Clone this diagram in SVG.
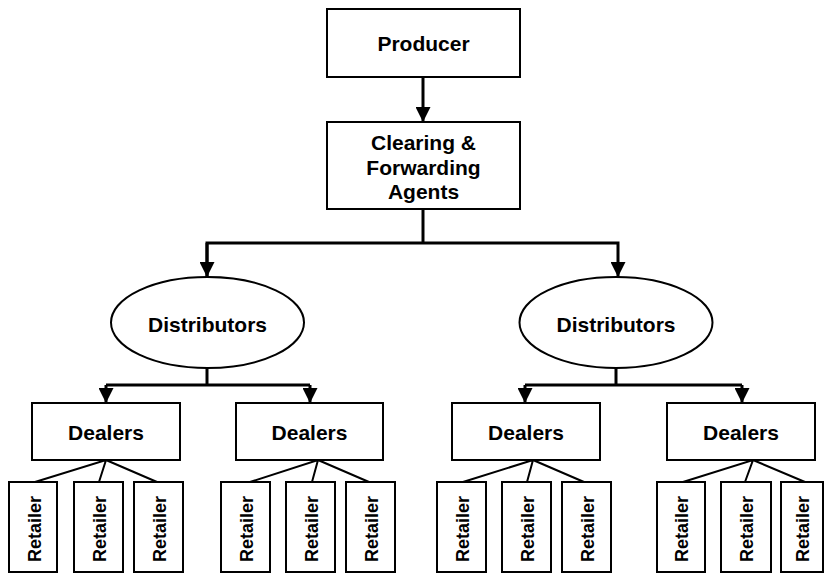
<svg xmlns="http://www.w3.org/2000/svg" width="825" height="573" viewBox="0 0 825 573">
<style>
.box{fill:#fff;stroke:#000;stroke-width:2}
.t{font-family:"Liberation Sans",Arial,sans-serif;font-weight:bold;font-size:21px;text-anchor:middle;fill:#000}
.r{font-family:"Liberation Sans",Arial,sans-serif;font-weight:bold;font-size:18px;text-anchor:middle;fill:#000}
.c{fill:none;stroke:#000;stroke-width:3}
.thin{fill:none;stroke:#000;stroke-width:2}
</style>
<defs>
<marker id="ah" markerWidth="16" markerHeight="15" refX="16" refY="8" orient="auto" markerUnits="userSpaceOnUse" viewBox="0 0 16 16">
<path d="M0,0 L16,8 L0,16 Z" fill="#000"/>
</marker>
</defs>
<rect width="825" height="573" fill="#fff"/>
<g id="connectors">
<line class="c" x1="423" y1="77" x2="423" y2="122" marker-end="url(#ah)"/>
<line class="c" x1="423" y1="209" x2="423" y2="243"/>
<polyline class="c" points="207,277 207,243 618,243 618,277" marker-end="url(#ah)"/>
<line class="c" x1="207" y1="243" x2="207" y2="277" marker-end="url(#ah)"/>
<line class="c" x1="207" y1="368" x2="207" y2="385"/>
<line class="c" x1="106" y1="385" x2="310" y2="385"/>
<line class="c" x1="106" y1="385" x2="106" y2="403" marker-end="url(#ah)"/>
<line class="c" x1="310" y1="385" x2="310" y2="403" marker-end="url(#ah)"/>
<line class="c" x1="616" y1="368" x2="616" y2="385"/>
<line class="c" x1="525" y1="385" x2="742" y2="385"/>
<line class="c" x1="525" y1="385" x2="525" y2="403" marker-end="url(#ah)"/>
<line class="c" x1="742" y1="385" x2="742" y2="403" marker-end="url(#ah)"/>
<path class="thin" d="M35,482 L106,460 L99,482 M106,460 L157,482"/>
<path class="thin" d="M250,482 L318,460 L312,482 M318,460 L369,482"/>
<path class="thin" d="M463,482 L533,460 L527,482 M533,460 L584,482"/>
<path class="thin" d="M683,482 L753,460 L745,482 M753,460 L805,482"/>
</g>
<g id="producer"><rect class="box" x="327" y="9" width="193" height="68"/><text class="t" x="423.5" y="51">Producer</text></g>
<g id="cfa"><rect class="box" x="327" y="122" width="193" height="87"/>
<text class="t" x="423.5" y="150">Clearing &amp;</text><text class="t" x="423.5" y="174.5">Forwarding</text><text class="t" x="423.5" y="199">Agents</text></g>
<g id="dist1"><ellipse class="box" cx="207.5" cy="322.5" rx="96.5" ry="45.5"/><text class="t" x="207.5" y="331.5">Distributors</text></g>
<g id="dist2"><ellipse class="box" cx="616" cy="322.5" rx="96.5" ry="45.5"/><text class="t" x="616" y="331.5">Distributors</text></g>
<g id="dealer1"><rect class="box" x="32" y="403" width="148" height="57"/><text class="t" x="106" y="440">Dealers</text></g>
<g id="dealer2"><rect class="box" x="236" y="403" width="147" height="57"/><text class="t" x="309.5" y="440">Dealers</text></g>
<g id="dealer3"><rect class="box" x="452" y="403" width="148" height="57"/><text class="t" x="526" y="440">Dealers</text></g>
<g id="dealer4"><rect class="box" x="667" y="403" width="148" height="57"/><text class="t" x="741" y="440">Dealers</text></g>
<g id="r1"><rect class="box" x="9" y="482" width="48" height="90"/><text class="r" transform="translate(40.5,529) rotate(-90)">Retailer</text></g>
<g id="r2"><rect class="box" x="74" y="482" width="49" height="90"/><text class="r" transform="translate(105.5,529) rotate(-90)">Retailer</text></g>
<g id="r3"><rect class="box" x="134" y="482" width="49" height="90"/><text class="r" transform="translate(165.5,529) rotate(-90)">Retailer</text></g>
<g id="r4"><rect class="box" x="221" y="482" width="49" height="90"/><text class="r" transform="translate(252.5,529) rotate(-90)">Retailer</text></g>
<g id="r5"><rect class="box" x="286" y="482" width="49" height="90"/><text class="r" transform="translate(317.5,529) rotate(-90)">Retailer</text></g>
<g id="r6"><rect class="box" x="346" y="482" width="49" height="90"/><text class="r" transform="translate(377.5,529) rotate(-90)">Retailer</text></g>
<g id="r7"><rect class="box" x="437" y="482" width="49" height="90"/><text class="r" transform="translate(468.5,529) rotate(-90)">Retailer</text></g>
<g id="r8"><rect class="box" x="502" y="482" width="49" height="90"/><text class="r" transform="translate(533.5,529) rotate(-90)">Retailer</text></g>
<g id="r9"><rect class="box" x="562" y="482" width="49" height="90"/><text class="r" transform="translate(593.5,529) rotate(-90)">Retailer</text></g>
<g id="r10"><rect class="box" x="657" y="482" width="48" height="90"/><text class="r" transform="translate(688,529) rotate(-90)">Retailer</text></g>
<g id="r11"><rect class="box" x="721" y="482" width="50" height="90"/><text class="r" transform="translate(753,529) rotate(-90)">Retailer</text></g>
<g id="r12"><rect class="box" x="781" y="482" width="42" height="90"/><text class="r" transform="translate(809,529) rotate(-90)">Retailer</text></g>
</svg>
